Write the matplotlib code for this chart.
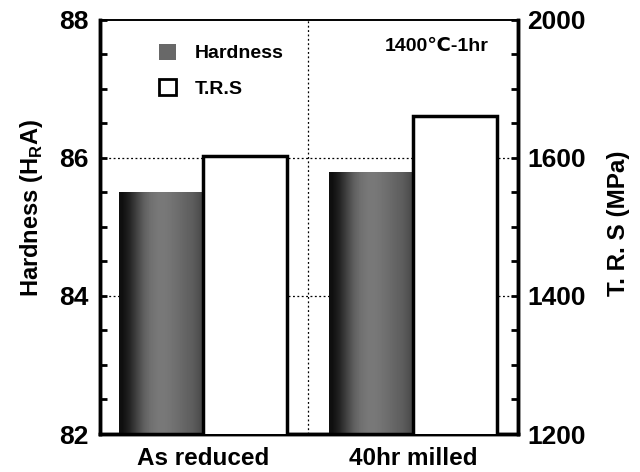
import numpy as np
import matplotlib
matplotlib.use("Agg")
import matplotlib.pyplot as plt
from matplotlib.patches import Patch
from matplotlib.ticker import FixedLocator

# === data ===
categories = ["As reduced", "40hr milled"]
hardness = [85.5, 85.8]          # H_R A
trs = [1605, 1720]               # MPa
hardness_ticks = [82, 84, 86, 88]
trs_ticks = [1200, 1400, 1600, 2000]
trs_minor = [1250, 1300, 1350, 1450, 1500, 1550, 1700, 1800, 1900]

plt.rcParams['font.family'] = ['Liberation Sans', 'DejaVu Sans']
plt.rcParams['font.weight'] = 'bold'
plt.rcParams['mathtext.fontset'] = 'custom'
plt.rcParams['mathtext.rm'] = 'Liberation Sans:bold'

# the right axis of the original is compressed above 1600 MPa
def fwd(v):
    v = np.asarray(v, dtype=float)
    return np.where(v <= 1600, v, 1600 + (v - 1600) / 2)

def inv(u):
    u = np.asarray(u, dtype=float)
    return np.where(u <= 1600, u, 1600 + (u - 1600) * 2)

fig = plt.figure(figsize=(6.4, 4.72), dpi=100)
ax = fig.add_axes([0.156, 0.0805, 0.653, 0.8775])
ax2 = ax.twinx()
ax2.set_yscale('function', functions=(fwd, inv))

x = np.arange(len(categories))
w = 0.4

# === hardness bars with halftone-like gradient ===
bars_h = ax.bar(x - w / 2, hardness, width=w, color='none', edgecolor='none', zorder=3)
grad = np.array([[0.06, 0.14, 0.26, 0.37, 0.44, 0.47, 0.47, 0.45, 0.42, 0.39, 0.36, 0.30]])
for b in bars_h:
    x0 = b.get_x()
    im = ax.imshow(grad, cmap='gray', vmin=0, vmax=1, aspect='auto', interpolation='bilinear',
                   extent=[x0, x0 + b.get_width(), 82, b.get_height()], zorder=3)
    im.set_clip_path(b)

# === TRS bars ===
ax2.bar(x + w / 2, trs, width=w, color='white', edgecolor='black', linewidth=2.5, zorder=3)

ax.set_xlim(-0.49, 1.5)
ax.set_ylim(82, 88)
ax2.set_ylim(1200, 2000)

# grid
for g in [84, 86]:
    ax.axhline(g, color='black', linestyle=(0, (1.5, 2)), linewidth=0.9, zorder=1)
ax.axvline(0.5, color='black', linestyle=(0, (1.5, 2)), linewidth=0.9, zorder=1)

# ticks
ax.set_xticks(x)
ax.set_xticklabels(categories, fontsize=17.5)
ax.tick_params(axis='x', length=0, pad=9)
ax.yaxis.set_major_locator(FixedLocator(hardness_ticks))
ax.yaxis.set_minor_locator(FixedLocator(np.arange(82, 88.01, 0.5)))
ax.tick_params(axis='y', which='both', direction='in', length=5, width=2, labelsize=19, pad=8)
ax2.yaxis.set_major_locator(FixedLocator(trs_ticks))
ax2.yaxis.set_minor_locator(FixedLocator(trs_minor))
ax2.yaxis.set_minor_formatter(plt.NullFormatter())
ax2.tick_params(axis='y', which='both', direction='in', length=5, width=2, labelsize=19, pad=7)

for a in (ax, ax2):
    for s in ['left', 'right', 'bottom']:
        a.spines[s].set_linewidth(2.5)
    a.spines['top'].set_linewidth(1.2)

ax.set_ylabel(r'Hardness (H$_\mathrm{R}$A)', fontsize=17, fontweight='bold')
ax.yaxis.set_label_coords(-0.131, 0.546)
ax2.set_ylabel('T. R. S (MPa)', fontsize=17.5, fontweight='bold')
ax2.yaxis.set_label_coords(1.214, 0.51)

# legend
handles = [Patch(facecolor='#686868', edgecolor='none'),
           Patch(facecolor='white', edgecolor='black', linewidth=2)]
ax2.legend(handles, ['Hardness', 'T.R.S'], loc='upper left', bbox_to_anchor=(0.1, 0.985),
           frameon=False, fontsize=14, handlelength=0.85, handleheight=0.9,
           handletextpad=1.0, labelspacing=0.85)

ax2.text(0.93, 0.935, '1400℃-1hr', transform=ax.transAxes, ha='right', va='center', fontsize=14)

fig.savefig('out.png', dpi=100)
